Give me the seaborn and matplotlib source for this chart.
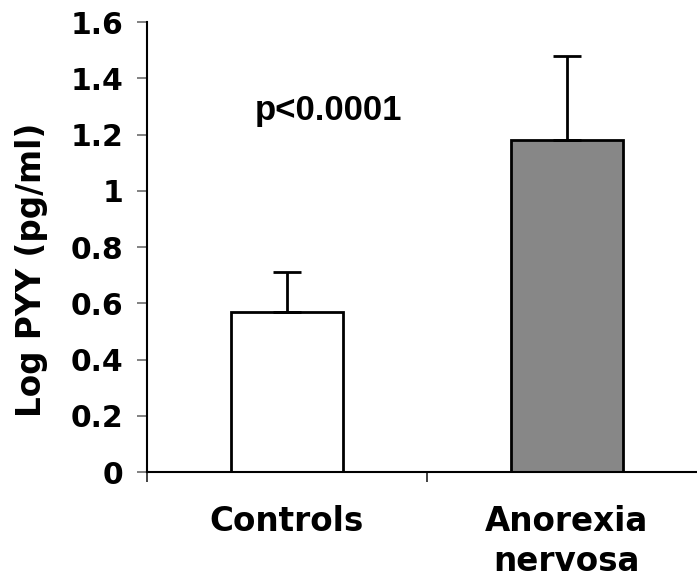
import numpy as np
import pandas as pd
import seaborn as sns
import matplotlib
matplotlib.use("Agg")
import matplotlib.pyplot as plt

# values
groups = ["Controls", "Anorexia\nnervosa"]
log_pyy = [0.57, 1.18]
upper_err = [0.14, 0.30]
bar_colors = ["#ffffff", "#878787"]
ytick_vals = [0, 0.2, 0.4, 0.6, 0.8, 1.0, 1.2, 1.4, 1.6]
ytick_labels = ['0', '0.2', '0.4', '0.6', '0.8', '1', '1.2', '1.4', '1.6']

sns.set_style("white")
plt.rcParams['font.family'] = ['DejaVu Sans']
plt.rcParams['font.weight'] = 'bold'
plt.rcParams['text.color'] = 'black'
plt.rcParams['axes.labelcolor'] = 'black'

df = pd.DataFrame({'group': groups, 'value': log_pyy})

fig = plt.figure(figsize=(6.97, 5.81), dpi=100)
ax = fig.add_axes([0.211, 0.1876, 0.803, 0.7745])

sns.barplot(data=df, x='group', y='value', hue='group', palette=bar_colors,
            width=0.4, edgecolor='black', linewidth=2, legend=False, ax=ax)

# one-sided (upper) error bars
ax.errorbar(np.arange(len(groups)), log_pyy,
            yerr=[np.zeros(len(groups)), upper_err],
            fmt='none', ecolor='black', elinewidth=2, capsize=10, capthick=2)

ax.set_ylim(0, 1.6)
ax.set_xlim(-0.5, 1.5)
ax.set_yticks(ytick_vals)
ax.set_yticklabels(ytick_labels, fontsize=21.5, fontweight='bold')

# category boundaries get the tick marks, names sit in between
ax.set_xticks([-0.5, 0.5, 1.5])
ax.set_xticklabels(['', '', ''])
ax.set_xticks([0, 1], minor=True)
ax.set_xticklabels(groups, minor=True, fontsize=23.5, fontweight='bold', linespacing=1.25)
ax.tick_params(axis='x', which='minor', bottom=True, length=0, pad=24, labelcolor='black')
ax.tick_params(axis='x', which='major', bottom=True, length=7, width=1.3,
               color='#333333', direction='out')
ax.tick_params(axis='y', left=True, length=7, width=1.3, color='#777777', direction='out',
               pad=10, labelcolor='black')

ax.set_xlabel('')
ax.set_ylabel('Log PYY (pg/ml)', fontsize=23.5, fontweight='bold')
ax.yaxis.set_label_coords(-0.177, 0.449)

for s in ['top', 'right']:
    ax.spines[s].set_visible(False)
for s in ['left', 'bottom']:
    ax.spines[s].set_color('black')
    ax.spines[s].set_linewidth(1.5)

ax.text(0.15, 1.25, 'p<0.0001', fontsize=25, fontweight='bold', ha='center', va='baseline',
        family='Liberation Sans')

fig.savefig('out.png', dpi=100)
